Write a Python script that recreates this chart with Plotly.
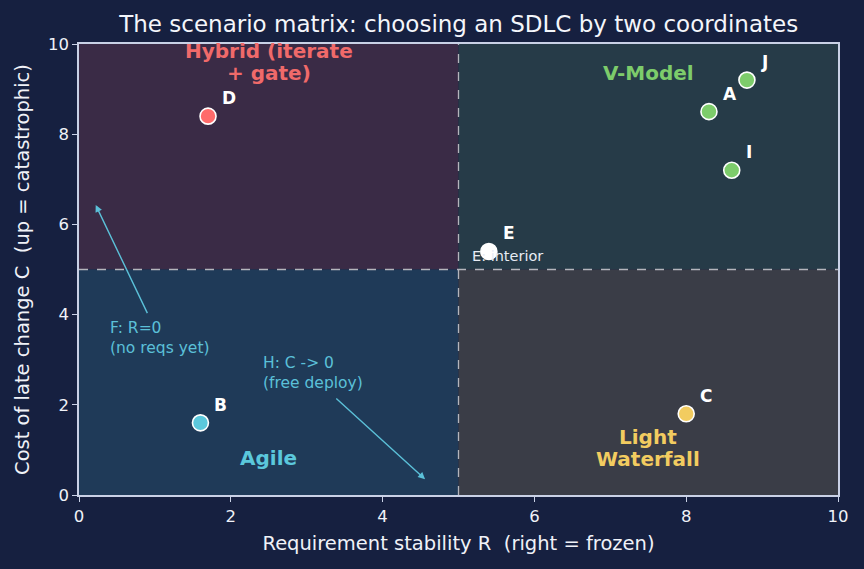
import plotly.graph_objects as go

# ---- data ----
point_labels = ["A", "B", "C", "D", "E", "I", "J"]
R_vals = [8.3, 1.6, 8.0, 1.7, 5.4, 8.6, 8.8]
C_vals = [8.5, 1.6, 1.8, 8.4, 5.4, 7.2, 9.2]
point_colors = ["#7dcc6b", "#5bc8dc", "#f2cc60", "#ff6b6b", "#ffffff", "#7dcc6b", "#7dcc6b"]

x_ticks = [0, 2, 4, 6, 8, 10]
y_ticks = [0, 2, 4, 6, 8, 10]

quadrants = [  # x0, x1, y0, y1, fill
    (0, 5, 5, 10, "#3a2b46"),
    (5, 10, 5, 10, "#263b48"),
    (0, 5, 0, 5, "#1f3a58"),
    (5, 10, 0, 5, "#3a3d47"),
]
quad_label_lines = [["Hybrid (iterate", "+ gate)"], ["V-Model"], ["Agile"], ["Light", "Waterfall"]]
quad_label_x = [2.5, 7.5, 2.5, 7.5]
quad_label_y = [9.6, 9.36, 0.82, 1.04]
quad_label_colors = ["#f06a6a", "#7dcc6b", "#5bc8dc", "#f2cc60"]

BG = "#162040"
AX = "#c9d1e6"
FONT = "DejaVu Sans"

fig = go.Figure()

shapes = []
for x0, x1, y0, y1, col in quadrants:
    shapes.append(dict(type="rect", xref="x", yref="y", x0=x0, x1=x1, y0=y0, y1=y1,
                       fillcolor=col, line=dict(width=0), layer="below"))
shapes.append(dict(type="line", xref="x", yref="y", x0=5, x1=5, y0=0, y1=10,
                   line=dict(color="#b4b5bc", width=1.3, dash="dash"), layer="below"))
shapes.append(dict(type="line", xref="x", yref="y", x0=0, x1=10, y0=5, y1=5,
                   line=dict(color="#b4b5bc", width=1.3, dash="dash"), layer="below"))

fig.add_trace(go.Scatter(
    x=R_vals, y=C_vals, mode="markers",
    marker=dict(size=16, color=point_colors, line=dict(color="white", width=1.6)),
    hoverinfo="skip", showlegend=False, cliponaxis=False,
))

annotations = []
for lab, xv, yv in zip(point_labels, R_vals, C_vals):
    annotations.append(dict(x=xv, y=yv, xref="x", yref="y", text="<b>%s</b>" % lab,
                            showarrow=False, xanchor="left", yanchor="middle",
                            xshift=12, yshift=18,
                            font=dict(family=FONT, size=17, color="white")))

LINE_PX = 22  # line spacing for two-line quadrant labels
for lines, xv, yv, c in zip(quad_label_lines, quad_label_x, quad_label_y, quad_label_colors):
    n = len(lines)
    for i, t in enumerate(lines):
        shift = ((n - 1) / 2.0 - i) * LINE_PX
        annotations.append(dict(x=xv, y=yv, xref="x", yref="y", text="<b>%s</b>" % t,
                                showarrow=False, xanchor="center", yanchor="middle",
                                yshift=shift,
                                font=dict(family=FONT, size=20, color=c)))

# E interior note
annotations.append(dict(x=5.15, y=5.3, xref="x", yref="y", text="E: interior",
                        showarrow=False, xanchor="left", yanchor="middle",
                        font=dict(family=FONT, size=14.5, color="#e8ecf4")))

ARROW = "#5bc0d8"
# F arrow
annotations.append(dict(x=0.22, y=6.43, ax=0.91, ay=4.0, xref="x", yref="y",
                        axref="x", ayref="y", text="", showarrow=True,
                        arrowhead=2, arrowsize=1, arrowwidth=1.4, arrowcolor=ARROW))
annotations.append(dict(x=0.38, y=3.48, xref="x", yref="y",
                        text="F: R=0<br>(no reqs yet)", showarrow=False,
                        xanchor="left", yanchor="middle", align="left",
                        font=dict(family=FONT, size=15.5, color=ARROW)))
# H arrow
annotations.append(dict(x=4.56, y=0.35, ax=3.37, ay=2.17, xref="x", yref="y",
                        axref="x", ayref="y", text="", showarrow=True,
                        arrowhead=2, arrowsize=1, arrowwidth=1.4, arrowcolor=ARROW))
annotations.append(dict(x=2.4, y=2.7, xref="x", yref="y",
                        text="H: C -&gt; 0<br>(free deploy)", showarrow=False,
                        xanchor="left", yanchor="middle", align="left",
                        font=dict(family=FONT, size=15.5, color=ARROW)))

axis_common = dict(
    range=[0, 10], showgrid=False, zeroline=False,
    showline=True, linecolor=AX, linewidth=1.5, mirror=True,
    ticks="outside", ticklen=5, tickwidth=1.3, tickcolor=AX,
    tickfont=dict(family=FONT, size=16.5, color="#f0f2f8"),
)

fig.update_layout(
    width=864, height=569,
    paper_bgcolor=BG, plot_bgcolor=BG,
    margin=dict(l=79, r=26, t=44, b=74),
    title=dict(text="The scenario matrix: choosing an SDLC by two coordinates",
               x=0.5309, xanchor="center", y=0.958, yanchor="middle",
               font=dict(family=FONT, size=23, color="#f4f6fb")),
    xaxis=dict(axis_common, tickvals=x_ticks,
               title=dict(text="Requirement stability R  (right = frozen)", standoff=12,
                          font=dict(family=FONT, size=19.5, color="#f0f2f8"))),
    yaxis=dict(axis_common, tickvals=y_ticks,
               title=dict(text="Cost of late change C  (up = catastrophic)", standoff=13,
                          font=dict(family=FONT, size=19.5, color="#f0f2f8"))),
    shapes=shapes, annotations=annotations,
)

fig.write_html("out.html")
